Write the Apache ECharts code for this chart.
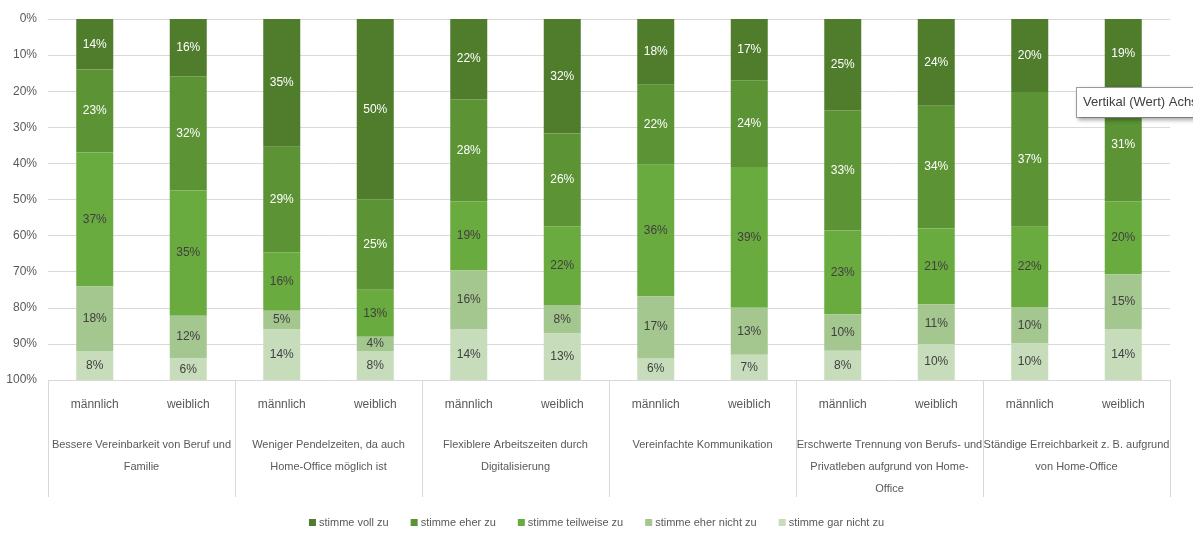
<!DOCTYPE html>
<html>
<head>
<meta charset="utf-8">
<script src="https://cdn.jsdelivr.net/npm/echarts@6/dist/echarts.min.js"></script>
<style>
  html, body { margin: 0; padding: 0; background: #fff; }
  #chart { width: 1193px; height: 535px; }
</style>
</head>
<body>
<div id="chart"></div>
<script>
// Kategorien
const geschlecht = ['männlich', 'weiblich', 'männlich', 'weiblich', 'männlich', 'weiblich',
    'männlich', 'weiblich', 'männlich', 'weiblich', 'männlich', 'weiblich'];
const aussagen = [
    'Bessere Vereinbarkeit von Beruf und\nFamilie',
    'Weniger Pendelzeiten, da auch\nHome-Office möglich ist',
    'Flexiblere Arbeitszeiten durch\nDigitalisierung',
    'Vereinfachte Kommunikation',
    'Erschwerte Trennung von Berufs- und\nPrivatleben aufgrund von Home-\nOffice',
    'Ständige Erreichbarkeit z. B. aufgrund\nvon Home-Office'
];
const antworten = ['stimme voll zu', 'stimme eher zu', 'stimme teilweise zu', 'stimme eher nicht zu', 'stimme gar nicht zu'];

// Werte in % (je Balken: männlich, weiblich, ...)
const vollZu      = [14, 16, 35, 50, 22, 32, 18, 17, 25, 24, 20, 19];
const eherZu      = [23, 32, 29, 25, 28, 26, 22, 24, 33, 34, 37, 31];
const teilweiseZu = [37, 35, 16, 13, 19, 22, 36, 39, 23, 21, 22, 20];
const eherNicht   = [18, 12,  5,  4, 16,  8, 17, 13, 10, 11, 10, 15];
const garNicht    = [ 8,  6, 14,  8, 14, 13,  6,  7,  8, 10, 10, 14];

const werte = [vollZu, eherZu, teilweiseZu, eherNicht, garNicht];
const farben = ['#4f7d2c', '#5b9335', '#6aab3f', '#a4c68f', '#c7dcba'];
const labelFarben = ['#ffffff', '#ffffff', '#404040', '#404040', '#404040'];

const schrift = "'Liberation Sans', Arial, sans-serif";

// Summe je Balken (wie Excel 100%-gestapelt)
const summen = geschlecht.map((_, i) => werte.reduce((s, arr) => s + arr[i], 0));

const series = antworten.map((name, k) => ({
    name: name,
    type: 'bar',
    stack: 'gesamt',
    barWidth: 37,
    itemStyle: { color: farben[k] },
    label: {
        show: true,
        color: labelFarben[k],
        fontFamily: schrift,
        fontSize: 12,
        formatter: p => p.data.roh + '%'
    },
    data: werte[k].map((v, i) => ({ value: v / summen[i] * 100, roh: v }))
}));

const chart = echarts.init(document.getElementById('chart'));

chart.setOption({
    animation: false,
    textStyle: { fontFamily: schrift },
    grid: { left: 48, right: 23, top: 19, bottom: 155, containLabel: false },
    legend: {
        bottom: 2,
        left: 'center',
        itemWidth: 7,
        itemHeight: 7,
        itemGap: 22,
        icon: 'rect',
        textStyle: { color: '#595959', fontSize: 11, fontFamily: schrift, padding: [0, 0, 0, -2] },
        data: antworten
    },
    xAxis: [
        {
            type: 'category',
            data: geschlecht,
            axisLine: { show: true, lineStyle: { color: '#d9d9d9' } },
            axisTick: { show: false },
            axisLabel: { color: '#595959', fontSize: 12, margin: 19, interval: 0 }
        },
        {
            type: 'category',
            position: 'bottom',
            data: aussagen,
            axisLine: { show: false },
            axisTick: { show: true, length: 117, lineStyle: { color: '#d9d9d9' } },
            axisLabel: {
                color: '#595959', fontSize: 11, margin: 54, interval: 0,
                verticalAlign: 'top', lineHeight: 22
            }
        }
    ],
    yAxis: {
        type: 'value',
        inverse: true,
        min: 0,
        max: 100,
        interval: 10,
        axisLine: { show: false },
        axisTick: { show: false },
        axisLabel: { color: '#595959', fontSize: 12, margin: 11, formatter: '{value}%' },
        splitLine: { lineStyle: { color: '#d9d9d9' } }
    },
    series: series,
    graphic: [
        {
            type: 'text',
            left: 1076,
            top: 87,
            z: 100,
            style: {
                text: 'Vertikal (Wert) Achse',
                fill: '#404040',
                fontSize: 13,
                fontFamily: schrift,
                backgroundColor: '#ffffff',
                borderColor: '#a0a0a0',
                borderWidth: 1,
                padding: [8, 6, 8, 6],
                shadowColor: 'rgba(0,0,0,0.3)',
                shadowBlur: 4,
                shadowOffsetX: 2,
                shadowOffsetY: 2
            }
        }
    ]
});
</script>
</body>
</html>
